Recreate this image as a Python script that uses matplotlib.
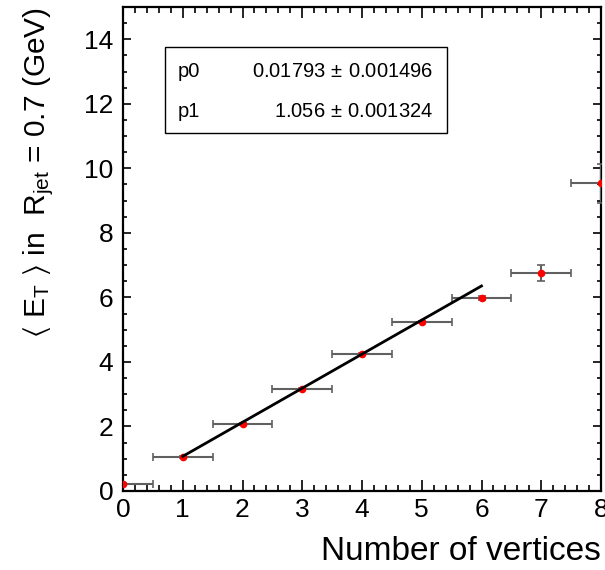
import numpy as np
import matplotlib
matplotlib.use('Agg')
import matplotlib.pyplot as plt
from matplotlib.ticker import MultipleLocator

# data
nvtx = [0, 1, 2, 3, 4, 5, 6, 7, 8]
mean_et = [0.22, 1.05, 2.08, 3.15, 4.26, 5.24, 5.99, 6.76, 9.53]
et_err = [0.02, 0.02, 0.02, 0.03, 0.03, 0.04, 0.06, 0.24, 0.60]
nvtx_err = [0.5] * 9

p0, p0_err = 0.01793, 0.001496
p1, p1_err = 1.056, 0.001324
fit_range = (1, 6)

plt.rcParams['font.family'] = ['Liberation Sans', 'DejaVu Sans']
plt.rcParams['mathtext.fontset'] = 'custom'
plt.rcParams['mathtext.rm'] = 'Liberation Sans'
plt.rcParams['mathtext.it'] = 'Liberation Sans:italic'
plt.rcParams['mathtext.fallback'] = 'stixsans'

fig = plt.figure(figsize=(6.05, 5.70), dpi=100)
ax = fig.add_axes([123/605, 1-491/570, 478/605, 484/570])

eb = ax.errorbar(nvtx, mean_et, xerr=nvtx_err, yerr=et_err, fmt='o', ms=4.5,
                 mfc='red', mec='red', ecolor='#606060', elinewidth=1.5,
                 capsize=3, capthick=1.2, zorder=3)
for cap in eb[1]:
    cap.set_color('black')

xf = np.linspace(fit_range[0], fit_range[1], 50)
ax.plot(xf, p0 + p1*xf, color='black', lw=2.0, zorder=4)

ax.set_xlim(0, 8)
ax.set_ylim(0, 15)
ax.xaxis.set_major_locator(MultipleLocator(1))
ax.xaxis.set_minor_locator(MultipleLocator(0.2))
ax.yaxis.set_major_locator(MultipleLocator(2))
ax.yaxis.set_minor_locator(MultipleLocator(0.5))
ax.tick_params(which='both', direction='in', top=True, right=True, width=1.2,
               labelsize=19)
ax.tick_params(axis='x', which='major', length=8, pad=5)
ax.tick_params(axis='x', which='minor', length=4)
ax.tick_params(axis='y', which='major', length=6, pad=7)
ax.tick_params(axis='y', which='minor', length=3)
for s in ax.spines.values():
    s.set_linewidth(1.6)

ax.set_xlabel('Number of vertices', fontsize=24, loc='right', labelpad=10)
ax.set_ylabel(r'$\langle$ E$_{\mathrm{T}}$ $\rangle$ in  R$_{\mathrm{jet}}$ = 0.7 (GeV)',
              fontsize=21.5, loc='top', labelpad=20)

# stats box
ax.add_patch(plt.Rectangle((165/605, 1-133/570), 282/605, 86/570,
                           transform=fig.transFigure, fill=True, fc='white',
                           ec='black', lw=1.0, zorder=5))
fs = 14.5
fig.text(178/605, 1-72/570, 'p0', fontsize=fs, va='center', zorder=6)
fig.text(433/605, 1-72/570, f'{p0}$\\,\\pm\\,${p0_err}', fontsize=fs,
         va='center', ha='right', zorder=6)
fig.text(178/605, 1-112/570, 'p1', fontsize=fs, va='center', zorder=6)
fig.text(433/605, 1-112/570, f'{p1}$\\,\\pm\\,${p1_err}', fontsize=fs,
         va='center', ha='right', zorder=6)

fig.savefig('out.png', dpi=100)
